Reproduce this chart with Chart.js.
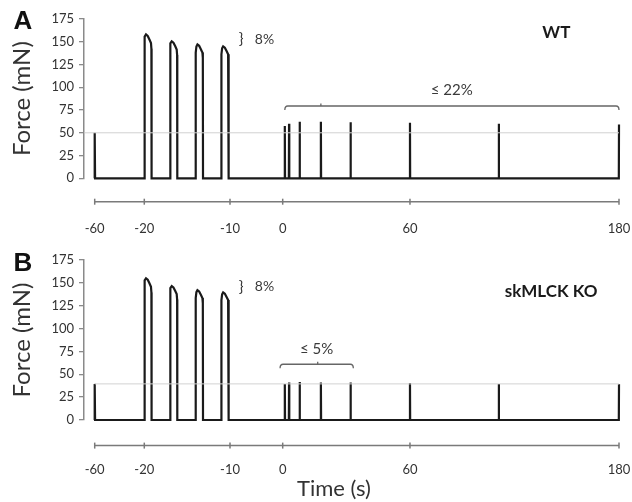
<!DOCTYPE html>
<html><head><meta charset="utf-8">
<script src="https://cdn.jsdelivr.net/npm/chart.js@4/dist/chart.umd.min.js"></script>
<style>
html,body{margin:0;padding:0;background:#fff;}
#wrap{position:relative;width:632px;height:502px;overflow:hidden;font-family:Lato,sans-serif;}
.panel{position:absolute;left:0;width:632px;}
.lbl{position:absolute;font-weight:bold;color:#111;font-family:"Liberation Sans",Arial,sans-serif;font-size:26px;line-height:1;transform:translate(-50%,-50%);}
#xtitle{position:absolute;left:334px;top:488px;transform:translate(-50%,-50%);font-size:22px;color:#333;white-space:nowrap;line-height:1;}
</style></head><body>
<div id="wrap">
 <div class="panel" style="top:0;height:241px"><canvas id="cA" width="632" height="241"></canvas></div>
 <div class="panel" style="top:241px;height:261px"><canvas id="cB" width="632" height="261"></canvas></div>
 <div class="lbl" style="left:23px;top:20px">A</div>
 <div class="lbl" style="left:23px;top:262px">B</div>
 <div id="xtitle">Time (s)</div>
</div>
<script>
// ---------- data ----------
const TIME_TICKS = [-60, -20, -10, 0, 60, 180];
const FORCE_TICKS = [0, 25, 50, 75, 100, 125, 150, 175];
const PRE_TWITCH_TIME = -60;
const TETANUS_TIMES = [-20, -17, -14, -11];
const POST_TWITCH_TIMES = [1, 3, 8, 18, 32, 60, 111, 180];

const WT_PRE_TWITCH = 50;
const WT_TETANUS_PEAKS = [158, 150.5, 147, 145];
const WT_POST_TWITCHES = [57.5, 60, 62, 62, 61.5, 61, 60, 59];

const KO_PRE_TWITCH = 39.5;
const KO_TETANUS_PEAKS = [155, 146.5, 142, 139.5];
const KO_POST_TWITCHES = [39.5, 41, 41.5, 41, 41, 40.5, 39.5, 39];

// shape of one tetanic contraction: [seconds after onset, fraction of peak]
const TETANUS_SHAPE = [[0, 0.94], [0.08, 0.985], [0.2, 1], [0.4, 0.99], [0.6, 0.965], [0.78, 0.94], [0.83, 0.9], [0.85, 0]];

// ---------- broken (piecewise) time axis as a Chart.js scale ----------
const STOP_FRAC = [0.020, 0.1127, 0.2729, 0.3714, 0.6093, 1.0];
function warp(v) {
  const s = TIME_TICKS, f = STOP_FRAC, n = s.length;
  let i = 0;
  if (v <= s[0]) i = 0; else if (v >= s[n-1]) i = n - 2;
  else { while (v > s[i+1]) i++; }
  return f[i] + (v - s[i]) * (f[i+1] - f[i]) / (s[i+1] - s[i]);
}
function unwarp(d) {
  const s = TIME_TICKS, f = STOP_FRAC, n = s.length;
  let i = 0;
  if (d <= f[0]) i = 0; else if (d >= f[n-1]) i = n - 2;
  else { while (d > f[i+1]) i++; }
  return s[i] + (d - f[i]) * (s[i+1] - s[i]) / (f[i+1] - f[i]);
}
class WarpScale extends Chart.LinearScale {
  buildTicks() { return TIME_TICKS.map(v => ({ value: v })); }
  getPixelForValue(v) { return this.getPixelForDecimal(warp(v)); }
  getValueForPixel(p) { return unwarp(this.getDecimalForPixel(p)); }
}
WarpScale.id = 'warp';
WarpScale.defaults = Chart.LinearScale.defaults;
Chart.register(WarpScale);

function buildTrace(pre, peaks, posts) {
  const pts = [];
  pts.push({ x: PRE_TWITCH_TIME, y: 0 }, { x: PRE_TWITCH_TIME, y: pre }, { x: PRE_TWITCH_TIME + 0.3, y: 0 });
  TETANUS_TIMES.forEach((t, i) => {
    pts.push({ x: t, y: 0 });
    TETANUS_SHAPE.forEach(([dt, fr]) => pts.push({ x: t + dt, y: fr * peaks[i] }));
  });
  POST_TWITCH_TIMES.forEach((t, i) => {
    pts.push({ x: t - 0.1, y: 0 }, { x: t, y: posts[i] }, { x: t + 0.1, y: 0 });
  });
  return pts;
}

const annotPlugin = {
  id: 'annot',
  afterDraw(chart, args, o) {
    const ctx = chart.ctx, xs = chart.scales.x, ys = chart.scales.y;
    const X = v => xs.getPixelForValue(v), Y = v => ys.getPixelForValue(v);
    ctx.save();
    // time axis line with tick marks
    const ay = Y(o.axisAt);
    ctx.strokeStyle = '#7a7a7a'; ctx.lineWidth = 1.5;
    ctx.beginPath(); ctx.moveTo(X(TIME_TICKS[0]), ay); ctx.lineTo(X(TIME_TICKS[TIME_TICKS.length - 1]), ay); ctx.stroke();
    TIME_TICKS.forEach(t => { ctx.beginPath(); ctx.moveTo(X(t), ay - 3); ctx.lineTo(X(t), ay + 3); ctx.stroke(); });
    // bracket
    const b = o.bracket, by = Y(b.y), x1 = X(b.from), x2 = X(b.to);
    ctx.strokeStyle = '#666'; ctx.lineWidth = 1.3;
    ctx.beginPath();
    ctx.moveTo(x1, by + 4); ctx.quadraticCurveTo(x1, by, x1 + 3, by);
    ctx.lineTo(x2 - 3, by); ctx.quadraticCurveTo(x2, by, x2, by + 4);
    ctx.stroke();
    ctx.beginPath(); ctx.moveTo(X(b.mid), by); ctx.lineTo(X(b.mid), by - 2.5); ctx.stroke();
    // texts
    o.texts.forEach(t => {
      ctx.font = t.font; ctx.fillStyle = t.color || '#3a3a3a';
      ctx.textAlign = t.align || 'center'; ctx.textBaseline = 'middle';
      ctx.fillText(t.text, X(t.x), Y(t.y));
    });
    ctx.restore();
  }
};

function makeChart(id, trace, refLevel, cfg) {
  return new Chart(document.getElementById(id), {
    type: 'line',
    data: { datasets: [
      { data: [{ x: cfg.refFrom, y: refLevel }, { x: 180, y: refLevel }], borderColor: '#d2d2d2', borderWidth: 1, pointRadius: 0 },
      { data: trace, borderColor: '#1a1a1a', borderWidth: 2.2, pointRadius: 0, tension: 0, clip: false }
    ] },
    options: {
      responsive: false, animation: false, events: [],
      layout: { padding: { left: 0, top: 19, right: 13, bottom: cfg.padBottom } },
      plugins: { legend: { display: false }, tooltip: { enabled: false }, annot: cfg.annot },
      scales: {
        x: { type: 'warp', min: -68, max: 180, position: { y: cfg.annot.axisAt },
             afterFit: s => { s.paddingLeft = 0; s.paddingRight = 0; },
             grid: { display: false }, border: { display: false },
             ticks: { padding: cfg.tickPad, color: '#333', font: { family: 'Lato', size: 13 }, autoSkip: false, maxRotation: 0, callback: v => String(v) } },
        y: { min: 0, max: 175,
             afterBuildTicks: s => { s.ticks = FORCE_TICKS.map(v => ({ value: v })); },
             afterFit: s => { s.width = 84; },
             grid: { drawOnChartArea: false, tickLength: 5, color: '#8a8a8a', lineWidth: 1.3 },
             border: { color: '#8a8a8a', width: 1.5 },
             ticks: { padding: 5, color: '#333', font: { family: 'Lato', size: 13 } },
             title: { display: true, text: 'Force (mN)', color: '#333', font: { family: 'Lato', size: 24 }, padding: { top: 8, bottom: 0 } } }
      }
    },
    plugins: [annotPlugin]
  });
}

makeChart('cA', buildTrace(WT_PRE_TWITCH, WT_TETANUS_PEAKS, WT_POST_TWITCHES), WT_PRE_TWITCH, {
  refFrom: -68, padBottom: 62.7, tickPad: 11,
  annot: {
    axisAt: -25.7,
    bracket: { from: 1, to: 180, y: 79.4, mid: 18 },
    texts: [
      { text: '}', x: -7.9, y: 153, font: '16px Lato' },
      { text: '8%', x: -5.3, y: 153, font: '14px Lato', align: 'left' },
      { text: '≤ 22%', x: 84, y: 97, font: '15px Lato' },
      { text: 'WT', x: 144, y: 160.7, font: 'bold 17px Lato', color: '#1a1a1a' }
    ]
  }
});
makeChart('cB', buildTrace(KO_PRE_TWITCH, KO_TETANUS_PEAKS, KO_POST_TWITCHES), KO_PRE_TWITCH, {
  refFrom: -60, padBottom: 82, tickPad: 8.5,
  annot: {
    axisAt: -28,
    bracket: { from: -0.5, to: 33.3, y: 61, mid: 16.5 },
    texts: [
      { text: '}', x: -7.9, y: 145.5, font: '16px Lato' },
      { text: '8%', x: -5.3, y: 145.5, font: '14px Lato', align: 'left' },
      { text: '≤ 5%', x: 16, y: 77.7, font: '15px Lato' },
      { text: 'skMLCK KO', x: 141, y: 140.3, font: 'bold 17px Lato', color: '#1a1a1a' }
    ]
  }
});
</script>
</body></html>
